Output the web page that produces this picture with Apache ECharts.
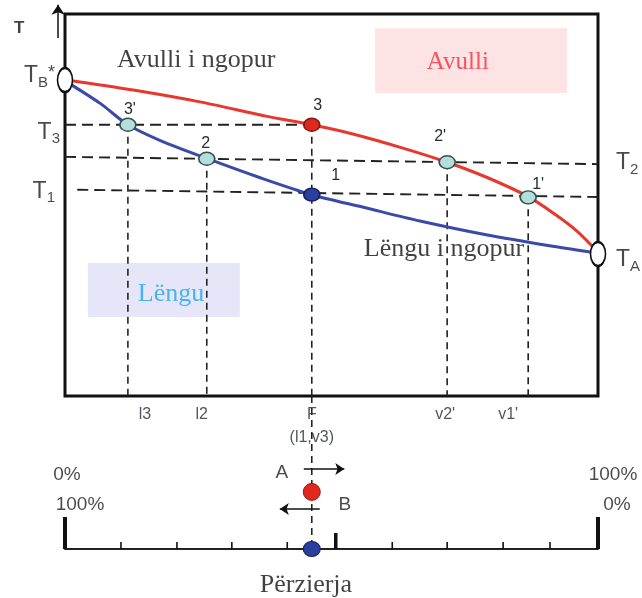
<!DOCTYPE html>
<html>
<head>
<meta charset="utf-8">
<script src="https://cdn.jsdelivr.net/npm/echarts@6/dist/echarts.min.js"></script>
<style>
  html, body { margin: 0; padding: 0; background: #fff; }
  #chart { width: 642px; height: 598px; }
</style>
</head>
<body>
<div id="chart"></div>
<script>
// Boiling-point diagram of a binary mixture A/B:
// x = share of A (%), y = temperature (relative units, 0–100 of the frame height)

// Liquid (bubble-point) curve
const bubbleX = [0, 6.6, 11.8, 18, 26.6, 36.5, 46.3, 56, 66.6, 79, 91.5, 100];
const bubbleT = [82.5, 76.6, 71.0, 66.8, 62.2, 57.2, 52.7, 49.4, 45.8, 42.2, 39.2, 37.4];

// Vapour (dew-point) curve
const dewX = [0, 12.8, 25.3, 37.9, 46.3, 54, 63.4, 71.7, 79.2, 86.9, 92, 96, 100];
const dewT = [82.8, 80.1, 77.0, 73.2, 71.0, 68.6, 64.9, 61.2, 57.2, 52.2, 47.5, 43.2, 37.6];

// Boiling points of the pure components
const tB = 82.7;
const tA = 37.2;

// Isotherms T3, T2, T1 (start and end of each dashed line)
const isoNames = ['3', '2', '1'];
const isoStart = [[0, 71.0], [0, 62.6], [2.3, 54.0]];
const isoEnd = [[46.3, 71.0], [100, 60.7], [100, 52.1]];

// State points on the curves
const pointNames = ["3'", '3', '2', "2'", '1', "1'"];
const pointX = [11.8, 46.3, 26.6, 71.7, 46.3, 86.9];
const pointT = [71.0, 71.0, 62.1, 61.2, 52.7, 52.0];
const pointKind = ['eq', 'vapour', 'eq', 'eq', 'liquid', 'eq'];

const readNames = ['l3', 'l2', 'F', "v2'", "v1'"];
const readX = [11.8, 26.6, 46.3, 71.7, 86.9];
const readFromT = [71.0, 62.1, 71.0, 61.2, 52.0];
const feedNote = '(l1,v3)';

// Mixture scale below the diagram
const feedX = 46.3;
const scaleTicks = [10.5, 21.0, 31.3, 41.7, 61.4, 71.7, 82.2, 91.0];
const scaleSplit = 50.8;
const scaleEnds = [0, 100];
const percentA = ['0%', '100%'];
const percentB = ['100%', '0%'];

const SANS = '"Liberation Sans", Arial, sans-serif';
const SERIF = '"Liberation Serif", "Times New Roman", serif';
const INK = '#1c1c1c';

const xy = (xs, ys) => xs.map((x, i) => [x, ys[i]]);

const series = [];

// text-only layer: invisible points carrying labels
function textLayer(grid, items, z) {
  return {
    type: 'scatter', xAxisIndex: grid, yAxisIndex: grid,
    symbolSize: 0, clip: false, silent: true, z: z || 10,
    data: items.map(it => ({
      value: it.at,
      label: Object.assign({
        show: true, position: 'inside', formatter: it.text,
        fontFamily: SANS, color: INK
      }, it.style)
    }))
  };
}

// shaded phase regions
series.push({
  type: 'custom', xAxisIndex: 0, yAxisIndex: 0, z: 1, silent: true,
  renderItem(params, api) {
    const a = api.coord([api.value(0), api.value(1)]);
    const b = api.coord([api.value(2), api.value(3)]);
    return {
      type: 'rect',
      shape: { x: a[0], y: a[1], width: b[0] - a[0], height: b[1] - a[1] },
      style: { fill: api.visual('color') }
    };
  },
  data: [
    { value: [58.2, 96.3, 94.2, 79.3], itemStyle: { color: '#fde3e3' } },
    { value: [4.3, 34.8, 32.8, 20.7], itemStyle: { color: '#e6e6f8' } }
  ]
});

// isotherms
isoNames.forEach((n, i) => {
  series.push({
    type: 'line', xAxisIndex: 0, yAxisIndex: 0, z: 2, silent: true,
    data: [isoStart[i], isoEnd[i]], showSymbol: false,
    lineStyle: { color: '#222', width: 1.9, type: [11, 6] }
  });
});

// verticals down to the composition axis
readNames.forEach((n, i) => {
  series.push({
    type: 'line', xAxisIndex: 0, yAxisIndex: 0, z: 2, silent: true,
    data: [[readX[i], readFromT[i]], [readX[i], 0]], showSymbol: false,
    lineStyle: { color: '#222', width: 1.6, type: [7, 5] }
  });
});

// phase boundary curves
series.push({
  type: 'line', xAxisIndex: 0, yAxisIndex: 0, z: 4, silent: true,
  data: xy(dewX, dewT), smooth: 0.3, showSymbol: false,
  lineStyle: { color: '#e8382d', width: 3 }
});
series.push({
  type: 'line', xAxisIndex: 0, yAxisIndex: 0, z: 4, silent: true,
  data: xy(bubbleX, bubbleT), smooth: 0.3, showSymbol: false,
  lineStyle: { color: '#3a4aa8', width: 3 }
});

// state points
const pointStyle = {
  eq: { color: '#b4dedb', borderColor: '#34504f', borderWidth: 1.5, opacity: 1 },
  vapour: { color: '#e2281e', borderColor: '#7a1c16', borderWidth: 1.5, opacity: 1 },
  liquid: { color: '#2b3f9e', borderColor: '#16205a', borderWidth: 1.5, opacity: 1 }
};
const pointLabelOffset = {
  "3'": [2, -15], '3': [6, -19], '2': [-1, -15], "2'": [-7, -26], '1': [24, -19], "1'": [10, -13]
};
series.push({
  type: 'scatter', xAxisIndex: 0, yAxisIndex: 0, z: 6, clip: false, silent: true,
  symbolSize: [16, 13],
  label: { show: true, position: 'inside', formatter: '{b}', fontFamily: SANS, fontSize: 16, color: '#262b36' },
  data: pointNames.map((n, i) => ({
    name: n, value: [pointX[i], pointT[i]],
    itemStyle: pointStyle[pointKind[i]],
    label: { offset: pointLabelOffset[n] }
  }))
});

// pure-component boiling points
series.push({
  type: 'scatter', xAxisIndex: 0, yAxisIndex: 0, z: 7, clip: false, silent: true,
  symbolSize: [15, 24],
  itemStyle: { color: '#fff', borderColor: '#111', borderWidth: 2, opacity: 1 },
  data: [[0, tB], [100, tA]]
});

// y axis arrow
series.push({
  type: 'lines', coordinateSystem: 'cartesian2d', xAxisIndex: 0, yAxisIndex: 0,
  z: 5, clip: false, silent: true,
  symbol: ['none', 'arrow'], symbolSize: [7, 10],
  lineStyle: { color: '#111', width: 1.5, opacity: 1 },
  data: [{ coords: [[-1.3, 93.7], [-1.3, 102.4]] }]
});

// temperature labels
const tRich = {
  t: { fontFamily: SANS, fontSize: 23, lineHeight: 26, verticalAlign: 'top', color: INK },
  s: { fontFamily: SANS, fontSize: 15, lineHeight: 16, verticalAlign: 'bottom', color: INK },
  a: { fontFamily: SANS, fontSize: 18, lineHeight: 18, verticalAlign: 'top', color: INK }
};
series.push(textLayer(0, [
  { at: [0, tB], text: '{t|T}{s|B}{a|*}', style: { align: 'right', offset: [-10, -3], rich: tRich, lineHeight: 32 } },
  { at: [0, isoStart[0][1]], text: '{t|T}{s|' + isoNames[0] + '}', style: { align: 'right', offset: [-5, 9], rich: tRich, lineHeight: 32 } },
  { at: [0, isoStart[2][1]], text: '{t|T}{s|' + isoNames[2] + '}', style: { align: 'right', offset: [-10, 3], rich: tRich, lineHeight: 32 } },
  { at: [100, isoEnd[1][1]], text: '{t|T}{s|' + isoNames[1] + '}', style: { align: 'left', offset: [18, 0], rich: tRich, lineHeight: 32 } },
  { at: [100, tA], text: '{t|T}{s|A}', style: { align: 'left', offset: [18, 7], rich: tRich, lineHeight: 32 } },
  { at: [-8.6, 96.3], text: 'T', style: { fontSize: 17, fontWeight: 'bold', color: '#111' } }
]));

// region names
series.push(textLayer(0, [
  { at: [24.6, 88.0], text: 'Avulli i ngopur', style: { fontFamily: SERIF, fontSize: 26, color: '#111' } },
  { at: [73.7, 87.4], text: 'Avulli', style: { fontFamily: SERIF, fontSize: 25, color: '#f0303c' } },
  { at: [19.9, 26.7], text: 'Lëngu', style: { fontFamily: SERIF, fontSize: 26, color: '#22a6ec' } },
  { at: [71.1, 38.5], text: 'Lëngu i ngopur', style: { fontFamily: SERIF, fontSize: 26, color: '#111' } }
], 8));

// composition readings below the frame
const readLabelDx = { l3: 17, l2: -5, F: 0, "v2'": -2, "v1'": -20 };
series.push(textLayer(0, readNames.map((n, i) => ({
  at: [readX[i], 0], text: n, style: { fontSize: 16, offset: [readLabelDx[n], 19], color: '#262b36' }
})).concat([
  { at: [feedX, 0], text: feedNote, style: { fontSize: 16, offset: [0, 42], color: '#262b36' } }
])));

// ---- mixture scale ----
series.push({
  type: 'line', xAxisIndex: 1, yAxisIndex: 1, z: 2, silent: true,
  data: [[feedX, 100], [feedX, 0]], showSymbol: false,
  lineStyle: { color: '#222', width: 1.6, type: [7, 5] }
});

const tickStyle = [
  { len: 7, width: 1.6 },
  { len: 16, width: 3.5 },
  { len: 32, width: 4 }
];
series.push({
  type: 'custom', xAxisIndex: 1, yAxisIndex: 1, z: 3, silent: true, clip: false,
  renderItem(params, api) {
    const p = api.coord([api.value(0), 0]);
    const st = tickStyle[api.value(1)];
    return {
      type: 'line',
      shape: { x1: p[0], y1: p[1], x2: p[0], y2: p[1] - st.len },
      style: { stroke: '#111', lineWidth: st.width }
    };
  },
  data: scaleTicks.map(x => [x, 0])
    .concat([[scaleSplit, 1]])
    .concat(scaleEnds.map(x => [x, 2]))
});

// feed point on the scale and the vapour/liquid markers
series.push({
  type: 'scatter', xAxisIndex: 1, yAxisIndex: 1, z: 6, clip: false, silent: true,
  data: [
    { value: [feedX, 37.3], symbolSize: 17, itemStyle: { color: '#e2281e', borderColor: '#8a1e16', borderWidth: 1, opacity: 1 } },
    { value: [feedX, 0], symbolSize: [17, 15], itemStyle: { color: '#2b3f9e', borderColor: '#16205a', borderWidth: 1, opacity: 1 } }
  ]
});

// direction arrows for A and B
series.push({
  type: 'lines', coordinateSystem: 'cartesian2d', xAxisIndex: 1, yAxisIndex: 1,
  z: 5, clip: false, silent: true,
  symbol: ['none', 'arrow'], symbolSize: [7, 9],
  lineStyle: { color: '#111', width: 1.6, opacity: 1 },
  data: [
    { coords: [[44.8, 52.3], [52.4, 52.3]] },
    { coords: [[47.8, 26.1], [40.3, 26.1]] }
  ]
});

series.push(textLayer(1, [
  { at: [scaleEnds[0], 48.4], text: percentA[0], style: { fontSize: 19, offset: [2, 0] } },
  { at: [scaleEnds[1], 48.4], text: percentA[1], style: { fontSize: 19, offset: [15, 0] } },
  { at: [scaleEnds[0], 28.8], text: percentB[0], style: { fontSize: 19, offset: [15, 0] } },
  { at: [scaleEnds[1], 28.8], text: percentB[1], style: { fontSize: 19, offset: [19, 0] } },
  { at: [40.7, 49.7], text: 'A', style: { fontSize: 19 } },
  { at: [52.5, 28.8], text: 'B', style: { fontSize: 19 } },
  { at: [45.2, -23.5], text: 'Përzierja', style: { fontFamily: SERIF, fontSize: 26, color: '#111' } }
]));

const chart = echarts.init(document.getElementById('chart'), null, { renderer: 'canvas' });
chart.setOption({
  animation: false,
  backgroundColor: '#fff',
  grid: [
    { left: 65, top: 14, width: 533, height: 382, show: true, borderColor: '#111', borderWidth: 3, backgroundColor: 'transparent', z: 0 },
    { left: 65, top: 396, width: 533, height: 153, show: false }
  ],
  xAxis: [
    { gridIndex: 0, type: 'value', min: 0, max: 100, show: false },
    {
      gridIndex: 1, type: 'value', min: 0, max: 100,
      axisLine: { show: true, lineStyle: { color: '#222', width: 2 } },
      axisTick: { show: false }, axisLabel: { show: false }, splitLine: { show: false }
    }
  ],
  yAxis: [
    { gridIndex: 0, type: 'value', min: 0, max: 100, show: false },
    { gridIndex: 1, type: 'value', min: 0, max: 100, show: false }
  ],
  series: series
});
</script>
</body>
</html>
